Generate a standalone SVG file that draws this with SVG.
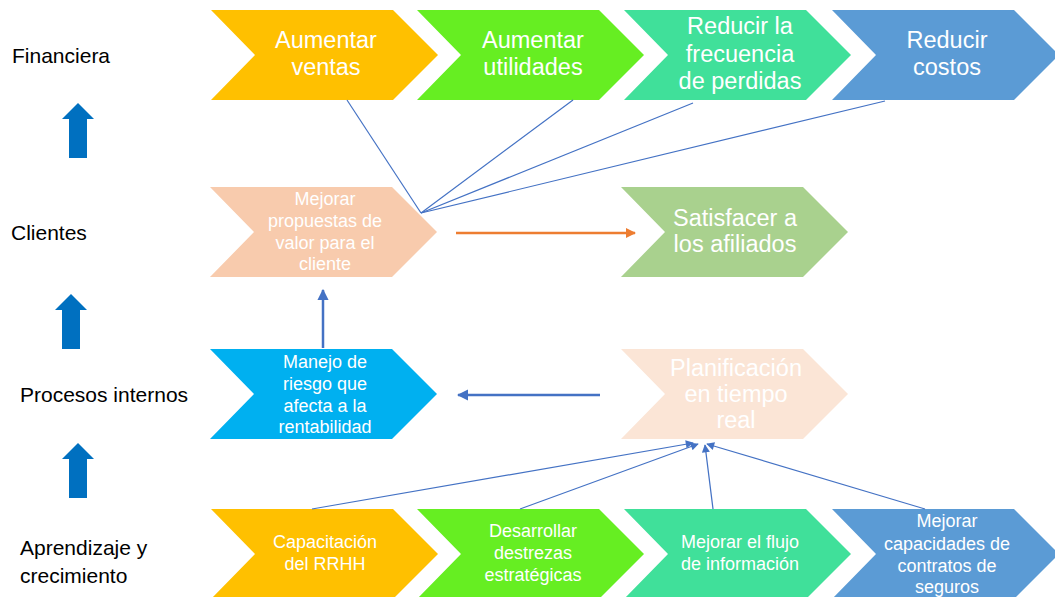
<svg xmlns="http://www.w3.org/2000/svg" width="1055" height="597" viewBox="0 0 1055 597">
<defs>
<style>
.lbl{font-family:"Liberation Sans",Arial,sans-serif;font-size:21px;fill:#000}
.t{font-family:"Liberation Sans",Arial,sans-serif;fill:#fff;text-anchor:middle}
.big{font-size:23.5px}
.sm{font-size:18px}
.thin{stroke:#4472C4;stroke-width:1.2;fill:none}
</style>
<marker id="ao" viewBox="0 0 10 10" refX="9" refY="5" markerWidth="4" markerHeight="4" orient="auto"><path d="M0,0L10,5L0,10z" fill="#ED7D31"/></marker>
<marker id="ab" viewBox="0 0 10 10" refX="9" refY="5" markerWidth="4.5" markerHeight="4.5" orient="auto"><path d="M0,0L10,5L0,10z" fill="#4472C4"/></marker>
<marker id="as" viewBox="0 0 10 10" refX="9" refY="5" markerWidth="9" markerHeight="8" markerUnits="userSpaceOnUse" orient="auto"><path d="M0,0L10,5L0,10z" fill="#4472C4"/></marker>
<path id="chev" d="M0,0H182L227,45L182,90H0L44,45Z"/>
<path id="up" d="M0,0L16,16H9V55H-9V16H-16Z" fill="#0070C0"/>
</defs>
<rect width="1055" height="597" fill="#fff"/>

<g id="labels">
<text class="lbl" x="12" y="63">Financiera</text>
<text class="lbl" x="11" y="240">Clientes</text>
<text class="lbl" x="20" y="402">Procesos internos</text>
<text class="lbl" x="20" y="555">Aprendizaje y</text>
<text class="lbl" x="20" y="583">crecimiento</text>
<use href="#up" x="78" y="103"/>
<use href="#up" x="71" y="294"/>
<use href="#up" x="78" y="443"/>
</g>

<g id="n1"><use href="#chev" x="211" y="10" fill="#FFC000"/>
<text class="t big" x="326" y="48">Aumentar</text><text class="t big" x="326" y="75">ventas</text></g>
<g id="n2"><use href="#chev" x="417" y="10" fill="#66EE22"/>
<text class="t big" x="533" y="48">Aumentar</text><text class="t big" x="533" y="75">utilidades</text></g>
<g id="n3"><use href="#chev" x="624" y="10" fill="#40E09A"/>
<text class="t big" x="740" y="34">Reducir la</text><text class="t big" x="740" y="62">frecuencia</text><text class="t big" x="740" y="89">de perdidas</text></g>
<g id="n4"><use href="#chev" x="832" y="10" fill="#5B9BD5"/>
<text class="t big" x="947" y="48">Reducir</text><text class="t big" x="947" y="75">costos</text></g>

<g id="n5"><use href="#chev" x="210" y="187" fill="#F8CBAD"/>
<text class="t sm" x="325" y="205">Mejorar</text><text class="t sm" x="325" y="227">propuestas de</text><text class="t sm" x="325" y="249">valor para el</text><text class="t sm" x="325" y="270">cliente</text></g>
<g id="n6"><use href="#chev" x="621" y="187" fill="#A9D18E"/>
<text class="t big" x="735" y="226">Satisfacer a</text><text class="t big" x="735" y="252">los afiliados</text></g>

<g id="n7"><use href="#chev" x="210" y="349" fill="#00B0F0"/>
<text class="t sm" x="325" y="368">Manejo de</text><text class="t sm" x="325" y="390">riesgo que</text><text class="t sm" x="325" y="412">afecta a la</text><text class="t sm" x="325" y="433">rentabilidad</text></g>
<g id="n8"><use href="#chev" x="621" y="349" fill="#FBE5D6"/>
<text class="t big" x="736" y="376">Planificación</text><text class="t big" x="736" y="402">en tiempo</text><text class="t big" x="736" y="428">real</text></g>

<g id="n9"><use href="#chev" x="211" y="509" fill="#FFC000"/>
<text class="t sm" x="325" y="548">Capacitación</text><text class="t sm" x="325" y="570">del RRHH</text></g>
<g id="n10"><use href="#chev" x="417" y="509" fill="#66EE22"/>
<text class="t sm" x="533" y="537">Desarrollar</text><text class="t sm" x="533" y="559">destrezas</text><text class="t sm" x="533" y="581">estratégicas</text></g>
<g id="n11"><use href="#chev" x="624" y="509" fill="#40E09A"/>
<text class="t sm" x="740" y="548">Mejorar el flujo</text><text class="t sm" x="740" y="570">de información</text></g>
<g id="n12"><use href="#chev" x="832" y="509" fill="#5B9BD5"/>
<text class="t sm" x="947" y="527">Mejorar</text><text class="t sm" x="947" y="550">capacidades de</text><text class="t sm" x="947" y="572">contratos de</text><text class="t sm" x="947" y="593">seguros</text></g>

<g id="connectors">
<line class="thin" x1="347" y1="100" x2="421" y2="213"/>
<line class="thin" x1="573" y1="100" x2="421" y2="213"/>
<line class="thin" x1="693" y1="103" x2="421" y2="213"/>
<line class="thin" x1="885" y1="101" x2="421" y2="213"/>
<line x1="456" y1="233" x2="635" y2="233" stroke="#ED7D31" stroke-width="2.5" marker-end="url(#ao)"/>
<line x1="600" y1="395" x2="458" y2="395" stroke="#4472C4" stroke-width="2.5" marker-end="url(#ab)"/>
<line x1="323" y1="348" x2="323" y2="290" stroke="#4472C4" stroke-width="2.5" marker-end="url(#ab)"/>
<line class="thin" x1="312" y1="509" x2="693" y2="443" marker-end="url(#as)"/>
<line class="thin" x1="520" y1="509" x2="698" y2="444" marker-end="url(#as)"/>
<line class="thin" x1="713" y1="509" x2="705" y2="445" marker-end="url(#as)"/>
<line class="thin" x1="925" y1="509" x2="707" y2="444" marker-end="url(#as)"/>
</g>
</svg>
